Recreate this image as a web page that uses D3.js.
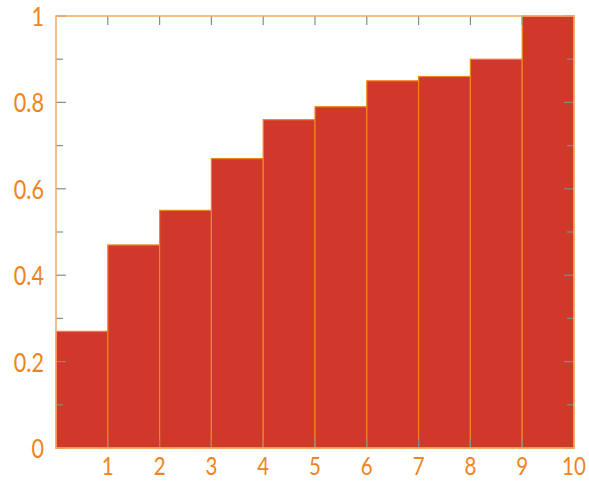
<!DOCTYPE html>
<html>
<head>
<meta charset="utf-8">
<script src="https://cdn.jsdelivr.net/npm/d3@7"></script>
<style>
  body { margin: 0; background: #fff; }
  .tick-label { font-family: Lato, "Open Sans", sans-serif; font-size: 27px; fill: #ee8420; }
  .x-label { font-size: 25px; }
</style>
</head>
<body>
<div id="chart"></div>
<script>
const binStarts = [0, 1, 2, 3, 4, 5, 6, 7, 8, 9];
const values = [0.27, 0.47, 0.55, 0.67, 0.76, 0.79, 0.85, 0.86, 0.90, 1.0];
const xTicks = [1, 2, 3, 4, 5, 6, 7, 8, 9, 10];
const yTicks = [0, 0.2, 0.4, 0.6, 0.8, 1];
const yMinorTicks = [0.1, 0.3, 0.5, 0.7, 0.9];

const margin = { top: 16, right: 15, bottom: 33, left: 56 };
const width = 589 - margin.left - margin.right;
const height = 481 - margin.top - margin.bottom;

const svg = d3.select("#chart")
  .append("svg")
  .attr("width", 589)
  .attr("height", 481)
  .append("g")
  .attr("transform", `translate(${margin.left},${margin.top})`);

const x = d3.scaleLinear().domain([0, 10]).range([0, width]);
const y = d3.scaleLinear().domain([0, 1]).range([height, 0]);

// bars
svg.selectAll(".bar")
  .data(binStarts)
  .join("rect")
  .attr("class", "bar")
  .attr("x", (d) => x(d))
  .attr("width", (d) => x(d + 1) - x(d))
  .attr("y", (d, i) => y(values[i]))
  .attr("height", (d, i) => y(0) - y(values[i]))
  .attr("fill", "#d0392a")
  .attr("stroke", "#f0861e")
  .attr("stroke-width", 1.2);

// tick marks (inside, gray)
const tickColor = "#8a8a8a";
const ticks = svg.append("g").attr("stroke", tickColor).attr("stroke-width", 1.2);
xTicks.filter((t) => t < 10).forEach((t) => {
  ticks.append("line").attr("x1", x(t)).attr("x2", x(t)).attr("y1", y(0)).attr("y2", y(0) - 9);
  ticks.append("line").attr("x1", x(t)).attr("x2", x(t)).attr("y1", y(1)).attr("y2", y(1) + 9);
});
yTicks.forEach((t) => {
  ticks.append("line").attr("x1", 0).attr("x2", 10).attr("y1", y(t)).attr("y2", y(t));
  ticks.append("line").attr("x1", width).attr("x2", width - 10).attr("y1", y(t)).attr("y2", y(t));
});
yMinorTicks.forEach((t) => {
  ticks.append("line").attr("x1", 0).attr("x2", 7).attr("y1", y(t)).attr("y2", y(t));
  ticks.append("line").attr("x1", width).attr("x2", width - 7).attr("y1", y(t)).attr("y2", y(t));
});

// frame
svg.append("rect")
  .attr("x", 0)
  .attr("y", 0)
  .attr("width", width)
  .attr("height", height)
  .attr("fill", "none")
  .attr("stroke", "#f5a862")
  .attr("stroke-width", 1.5);

// labels (narrowed to mimic the condensed reference face)
svg.selectAll(".x-label")
  .data(xTicks)
  .join("text")
  .attr("class", "tick-label x-label")
  .attr("text-anchor", "middle")
  .attr("transform", (d) => `translate(${x(d)},${height + 27}) scale(0.82,1)`)
  .text((d) => d);

svg.selectAll(".y-label")
  .data(yTicks)
  .join("text")
  .attr("class", "tick-label y-label")
  .attr("text-anchor", "end")
  .attr("transform", (d) => `translate(-12,${y(d) + 10}) scale(0.8,1)`)
  .text((d) => d3.format("~g")(d));
</script>
</body>
</html>
